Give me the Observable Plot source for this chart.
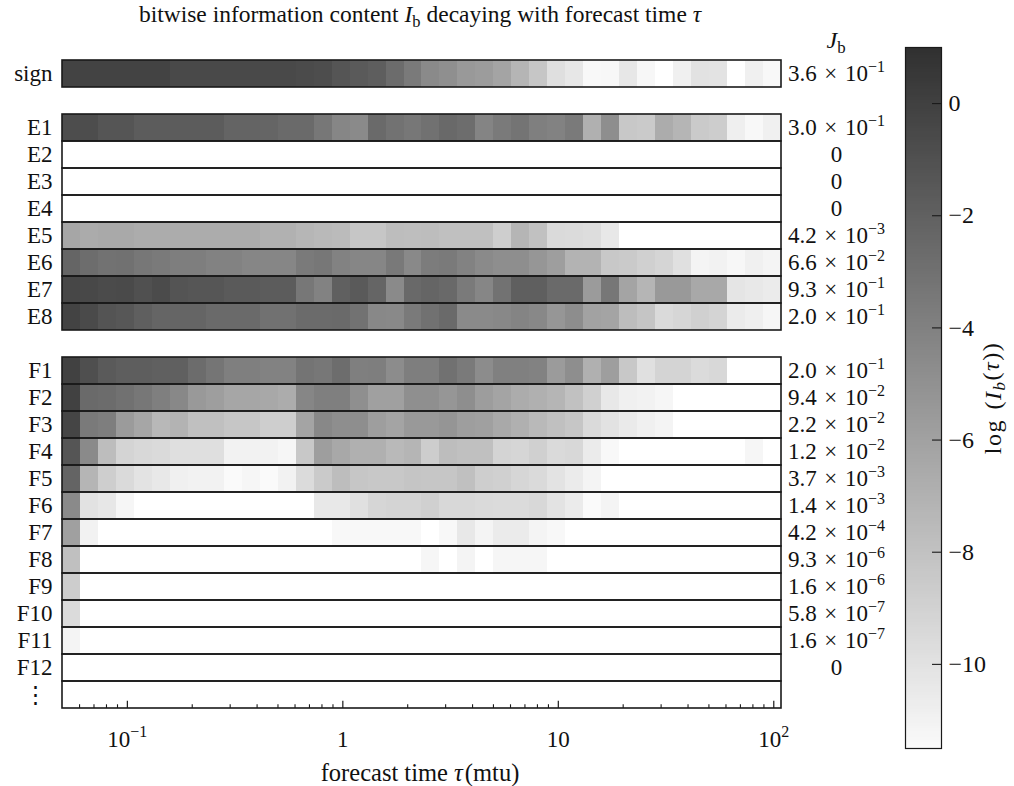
<!DOCTYPE html>
<html><head><meta charset="utf-8">
<script src="https://cdn.jsdelivr.net/npm/d3@7"></script>
<script src="https://cdn.jsdelivr.net/npm/@observablehq/plot@0.6"></script>
<style>
body{margin:0;background:#fff;font-family:"Liberation Serif","DejaVu Serif",serif;}
#wrap{position:relative;width:1014px;height:786px;overflow:hidden;}
#wrap svg{position:absolute;top:0;}
.lbl{position:absolute;transform:translate(-50%,-50%);white-space:nowrap;font-size:23px;color:#111;line-height:1;}
.lbl sub{font-size:70%;vertical-align:-0.3em;line-height:0;}
</style></head><body><div id="wrap"></div>
<script>
const N = null;
// forecast-time bin edges (mtu), log spaced
const timeEdges = [0.0500,0.0606,0.0734,0.0890,0.1078,0.1306,0.1583,0.1918,0.2325,0.2817,0.3414,0.4137,0.5012,0.6074,0.7360,0.8919,1.081,1.309,1.587,1.923,2.330,2.824,3.421,4.146,5.024,6.088,7.378,8.941,10.83,13.13,15.91,19.28,23.36,28.31,34.30,41.57,50.37,61.04,73.96,89.63,108.6];
const rowNames = ["sign","E1","E2","E3","E4","E5","E6","E7","E8","F1","F2","F3","F4","F5","F6","F7","F8","F9","F10","F11","F12","⋮"];
const layoutRows = ["sign","gap1","E1","E2","E3","E4","E5","E6","E7","E8","gap2","F1","F2","F3","F4","F5","F6","F7","F8","F9","F10","F11","F12","⋮"];
const jbLabels = ["3.6 × 10^−1","3.0 × 10^−1","0","0","0","4.2 × 10^−3","6.6 × 10^−2","9.3 × 10^−1","2.0 × 10^−1","2.0 × 10^−1","9.4 × 10^−2","2.2 × 10^−2","1.2 × 10^−2","3.7 × 10^−3","1.4 × 10^−3","4.2 × 10^−4","9.3 × 10^−6","1.6 × 10^−6","5.8 × 10^−7","1.6 × 10^−7","0"];
const xTickValues = [0.1, 1, 10, 100];
const xTickLabels = ["10^−1", "1", "10", "10^2"];
const xMinorTicks = [0.06,0.07,0.08,0.09,0.2,0.3,0.4,0.5,0.6,0.7,0.8,0.9,2,3,4,5,6,7,8,9,20,30,40,50,60,70,80,90];
const cbTickValues = [0, -2, -4, -6, -8, -10];
const cbTickLabels = ["0", "−2", "−4", "−6", "−8", "−10"];

// log(I_b) per time bin
const signRow = [-0.2,-0.2,-0.2,-0.2,-0.2,-0.2,-0.55,-0.55,-0.55,-0.55,-0.55,-0.55,-0.55,-0.7,-0.8,-1.3,-1.6,-1.85,-2.7,-3.6,-4.6,-4.9,-5.5,-5.7,-6.2,-7.2,-8.3,-9.8,-10.3,-11.4,-11.3,-10.3,-11.3,N,-10.9,-10.0,-10.1,N,-10.9,-11.4];
const E1 = [-0.8,-0.8,-1.3,-1.3,-1.7,-1.7,-1.7,-1.7,-1.7,-2.2,-2.2,-2.3,-2.6,-2.6,-3.4,-4.3,-4.6,-2.6,-3.1,-3.4,-3.0,-2.5,-2.8,-4.2,-3.6,-3.2,-3.9,-4.1,-3.6,-6.9,-4.8,-8.4,-8.5,-6.7,-7.2,-8.5,-8.7,-10.8,-11.4,-10.9];
const E2 = [N,N,N,N,N,N,N,N,N,N,N,N,N,N,N,N,N,N,N,N,N,N,N,N,N,N,N,N,N,N,N,N,N,N,N,N,N,N,N,N];
const E3 = [N,N,N,N,N,N,N,N,N,N,N,N,N,N,N,N,N,N,N,N,N,N,N,N,N,N,N,N,N,N,N,N,N,N,N,N,N,N,N,N];
const E4 = [N,N,N,N,N,N,N,N,N,N,N,N,N,N,N,N,N,N,N,N,N,N,N,N,N,N,N,N,N,N,N,N,N,N,N,N,N,N,N,N];
const E5 = [-6.3,-6.6,-6.5,-6.5,-6.7,-6.7,-6.7,-6.7,-6.7,-6.7,-6.7,-7.0,-7.0,-7.3,-7.5,-7.6,-8.3,-8.3,-7.7,-7.8,-7.7,-7.9,-7.9,-7.9,-8.8,-7.2,-8.0,-9.5,-9.6,-9.7,-10.4,N,N,N,N,N,N,N,N,N];
const E6 = [-2.3,-2.8,-3.1,-3.0,-3.4,-3.6,-3.8,-3.8,-4.1,-4.1,-4.3,-4.3,-4.3,-3.6,-3.4,-4.1,-4.3,-4.3,-3.5,-4.5,-3.7,-3.6,-4.1,-4.6,-4.8,-4.8,-5.3,-5.8,-7.1,-7.1,-8.4,-8.5,-8.9,-9.2,-9.9,-11.1,-11.0,-11.3,-10.9,-11.1];
const E7 = [-0.4,-0.5,-0.7,-0.6,-1.0,-0.7,-1.2,-1.35,-1.35,-1.6,-1.6,-1.7,-1.7,-3.4,-4.1,-2.0,-1.6,-2.3,-4.6,-2.5,-2.3,-2.5,-3.6,-4.3,-3.1,-1.9,-1.9,-2.6,-2.6,-5.6,-3.4,-6.2,-7.2,-5.5,-5.5,-6.4,-6.4,-10.2,-10.4,-10.6];
const E8 = [-0.2,-0.6,-1.2,-1.4,-1.9,-2.3,-2.3,-2.3,-2.6,-2.6,-2.6,-3.0,-3.0,-2.65,-2.65,-2.6,-3.1,-4.45,-4.5,-3.6,-3.0,-2.6,-4.6,-4.6,-4.45,-4.2,-4.45,-5.3,-4.75,-6.05,-6.2,-7.7,-8.2,-9.5,-9.3,-8.9,-9.15,-10.6,-10.8,-11.25];
const F1 = [-0.05,-0.9,-1.6,-1.85,-1.85,-2.0,-2.0,-2.7,-3.3,-3.9,-3.9,-4.1,-4.1,-3.2,-3.4,-2.8,-3.9,-3.8,-4.7,-3.8,-3.8,-3.0,-3.6,-4.7,-3.95,-3.95,-4.1,-5.6,-4.8,-6.9,-5.8,-8.4,-9.9,-9.15,-9.15,-9.6,-9.4,N,N,N];
const F2 = [-0.05,-2.6,-2.7,-3.0,-3.4,-3.9,-4.45,-5.5,-5.8,-6.3,-6.3,-6.4,-6.7,-4.3,-3.9,-3.9,-4.9,-5.9,-5.9,-4.9,-4.9,-5.3,-4.8,-5.75,-6.2,-6.7,-6.9,-7.2,-8.0,-8.9,-10.4,-10.9,-11.0,-11.25,N,N,N,N,N,N];
const F3 = [-0.3,-3.6,-3.8,-5.6,-6.3,-7.4,-7.1,-7.9,-7.9,-8.3,-8.3,-8.8,-8.8,-6.2,-4.45,-4.8,-4.8,-5.8,-6.2,-5.5,-5.5,-5.25,-5.8,-5.9,-6.5,-6.9,-7.5,-7.9,-8.3,-9.5,-10.0,-10.5,-10.9,-11.1,N,N,N,N,N,N];
const F4 = [-1.3,-4.6,-7.7,-9.15,-9.4,-9.5,-9.8,-9.8,-9.8,-11.0,-11.0,-11.0,-11.25,-8.4,-5.8,-6.4,-6.9,-6.9,-7.5,-7.2,-8.7,-7.7,-7.9,-7.9,-9.15,-9.3,-8.9,-9.5,-9.4,-10.6,-11.4,N,N,N,N,N,N,N,-11.25,N];
const F5 = [-2.2,-7.2,-8.8,-9.5,-10.1,-10.4,-10.9,-11.0,-11.0,-11.5,-11.25,-11.5,-11.0,-9.6,-8.5,-7.7,-8.3,-8.4,-8.4,-8.2,-8.3,-8.3,-7.9,-8.8,-8.9,-9.3,-9.5,-10.1,-10.6,-11.1,N,N,N,N,N,N,N,N,N,N];
const F6 = [-4.6,-10.0,-10.3,-11.25,N,N,N,N,N,N,N,N,N,N,-10.4,-10.4,-9.9,-9.3,-9.15,-9.15,-8.9,-9.4,-9.4,-9.5,-9.6,-9.6,-9.4,-10.1,-10.6,-11.5,-11.1,N,N,N,N,N,N,N,N,N];
const F7 = [-5.9,-11.0,N,N,N,N,N,N,N,N,N,N,N,N,N,-11.4,-11.4,-11.4,-11.4,-11.4,N,-11.4,-10.4,-11.1,-10.6,-10.6,-11.1,-11.4,N,N,N,N,N,N,N,N,N,N,N,N];
const F8 = [-7.9,N,N,N,N,N,N,N,N,N,N,N,N,N,N,N,N,N,N,N,-11.25,N,-11.1,N,-11.25,-11.25,-11.25,N,N,N,N,N,N,N,N,N,N,N,N,N];
const F9 = [-8.7,N,N,N,N,N,N,N,N,N,N,N,N,N,N,N,N,N,N,N,N,N,N,N,N,N,N,N,N,N,N,N,N,N,N,N,N,N,N,N];
const F10 = [-9.6,N,N,N,N,N,N,N,N,N,N,N,N,N,N,N,N,N,N,N,N,N,N,N,N,N,N,N,N,N,N,N,N,N,N,N,N,N,N,N];
const F11 = [-11.1,N,N,N,N,N,N,N,N,N,N,N,N,N,N,N,N,N,N,N,N,N,N,N,N,N,N,N,N,N,N,N,N,N,N,N,N,N,N,N];
const F12 = [N,N,N,N,N,N,N,N,N,N,N,N,N,N,N,N,N,N,N,N,N,N,N,N,N,N,N,N,N,N,N,N,N,N,N,N,N,N,N,N];

const rowValues = {sign: signRow, E1, E2, E3, E4, E5, E6, E7, E8, F1, F2, F3, F4, F5, F6, F7, F8, F9, F10, F11, F12};
const cells = [];
for (const [row, vals] of Object.entries(rowValues)) {
  vals.forEach((v, k) => { if (v !== null) cells.push({row, t0: timeEdges[k], t1: timeEdges[k + 1], v}); });
}
const lo = timeEdges[0], hi = timeEdges[timeEdges.length - 1];
const FONT = '"Liberation Serif","DejaVu Serif",serif';
const FS = 23;
const colorScale = {type: "linear", domain: [-11.5, 1], range: ["#fafafa", "#303030"], interpolate: "rgb"};
const labelRows = rowNames.filter(d => d !== "⋮");
const bandH = (717 - 50) / layoutRows.length;

const main = Plot.plot({
  width: 1014, height: 786,
  marginLeft: 62, marginRight: 233, marginTop: 50, marginBottom: 69,
  style: {fontFamily: FONT, fontSize: FS + "px", background: "transparent", color: "#111"},
  x: {type: "log", domain: [lo, hi], axis: null},
  y: {type: "band", domain: layoutRows, padding: 0, axis: null},
  color: colorScale,
  marks: [
    Plot.barX(cells, {x1: "t0", x2: "t1", y: "row", fill: "v", shapeRendering: "crispEdges"}),
    Plot.barX(rowNames, {x1: () => lo, x2: () => hi, y: d => d, fill: "none", stroke: "#1a1a1a", strokeWidth: 1.6}),
    Plot.tickX(xTickValues, {x: d => d, y: () => "⋮", insetTop: bandH - 8, stroke: "#1a1a1a", strokeWidth: 1.2}),
    Plot.tickX(xMinorTicks, {x: d => d, y: () => "⋮", insetTop: bandH - 4.5, stroke: "#1a1a1a", strokeWidth: 1.1}),
    Plot.text(xTickValues, {x: d => d, text: (d, i) => xTickLabels[i], frameAnchor: "bottom", dy: 29, fontSize: FS}),
    Plot.text(labelRows, {y: d => d, text: d => d, frameAnchor: "left", dx: -10, textAnchor: "end", fontSize: FS}),
    Plot.text(["⋮"], {y: d => d, text: d => d, frameAnchor: "left", dx: -27, textAnchor: "middle", fontSize: FS}),
    Plot.text(labelRows, {y: d => d, text: (d, i) => jbLabels[i].replace(" × ", "\u2004×\u2004"), frameAnchor: "right", dx: 55, textAnchor: "middle", fontSize: FS})
  ]
});

const cbValues = d3.range(-11.5, 1, 0.05);
const cb = Plot.plot({
  width: 119, height: 786,
  marginLeft: 10, marginRight: 73, marginTop: 47, marginBottom: 38,
  style: {fontFamily: FONT, fontSize: FS + "px", background: "transparent", color: "#111"},
  x: {domain: [0, 1], axis: null},
  y: {domain: [-11.5, 1], axis: null},
  color: colorScale,
  marks: [
    Plot.rect(cbValues, {x1: () => 0, x2: () => 1, y1: d => d, y2: d => d + 0.055, fill: d => d + 0.025, shapeRendering: "crispEdges"}),
    Plot.frame({stroke: "#1a1a1a", strokeWidth: 1.2}),
    Plot.ruleY(cbTickValues, {y: d => d, x1: () => 0.75, x2: () => 1, stroke: "#1a1a1a", strokeWidth: 1.1}),
    Plot.text(cbTickValues, {y: d => d, text: (d, i) => cbTickLabels[i], frameAnchor: "right", dx: 7, textAnchor: "start", fontSize: 24}),
    Plot.text(["CBLABEL"], {frameAnchor: "right", dx: 52, rotate: -90, textAnchor: "middle", text: d => d, fontSize: 24})
  ]
});
main.style.left = "0px";
cb.style.left = "895px";
const wrap = document.getElementById("wrap");
wrap.appendChild(main);
wrap.appendChild(cb);

const SVGNS = "http://www.w3.org/2000/svg";
function tspan(t, s, attrs) {
  const ts = document.createElementNS(SVGNS, "tspan");
  ts.textContent = s;
  for (const k in attrs) ts.setAttribute(k, attrs[k]);
  t.appendChild(ts);
  return ts;
}
main.querySelectorAll("text").forEach(t => {
  const s = t.textContent, i = s.indexOf("^");
  if (i < 0) return;
  t.textContent = s.slice(0, i);
  tspan(t, s.slice(i + 1), {dy: "-0.6em", "font-size": "16px"});
});
// colorbar label: log (I_b(τ))
cb.querySelectorAll("text").forEach(t => {
  if (t.textContent !== "CBLABEL") return;
  t.textContent = "";
  t.setAttribute("letter-spacing", "1.5px");
  tspan(t, "log\u2004(", {});
  tspan(t, "I", {"font-style": "italic"});
  tspan(t, "b", {"font-style": "italic", "font-size": "17px", dy: "0.25em"});
  tspan(t, "(", {dy: "-0.25em"});
  tspan(t, "τ", {"font-style": "italic"});
  tspan(t, "))", {});
});

function addLabel(html, x, y, fs) {
  const d = document.createElement("div");
  d.className = "lbl"; d.innerHTML = html;
  d.style.left = x + "px"; d.style.top = y + "px";
  if (fs) d.style.fontSize = fs + "px";
  wrap.appendChild(d);
}
addLabel('bitwise information content <i>I</i><sub>b</sub> decaying with forecast time <i>τ</i>', 420, 15, 23.5);
addLabel('<i>J</i><sub>b</sub>', 836, 40, 24);
addLabel('forecast time <i>τ</i>&#8202;(mtu)', 420, 773, 24.5);
</script></body></html>
